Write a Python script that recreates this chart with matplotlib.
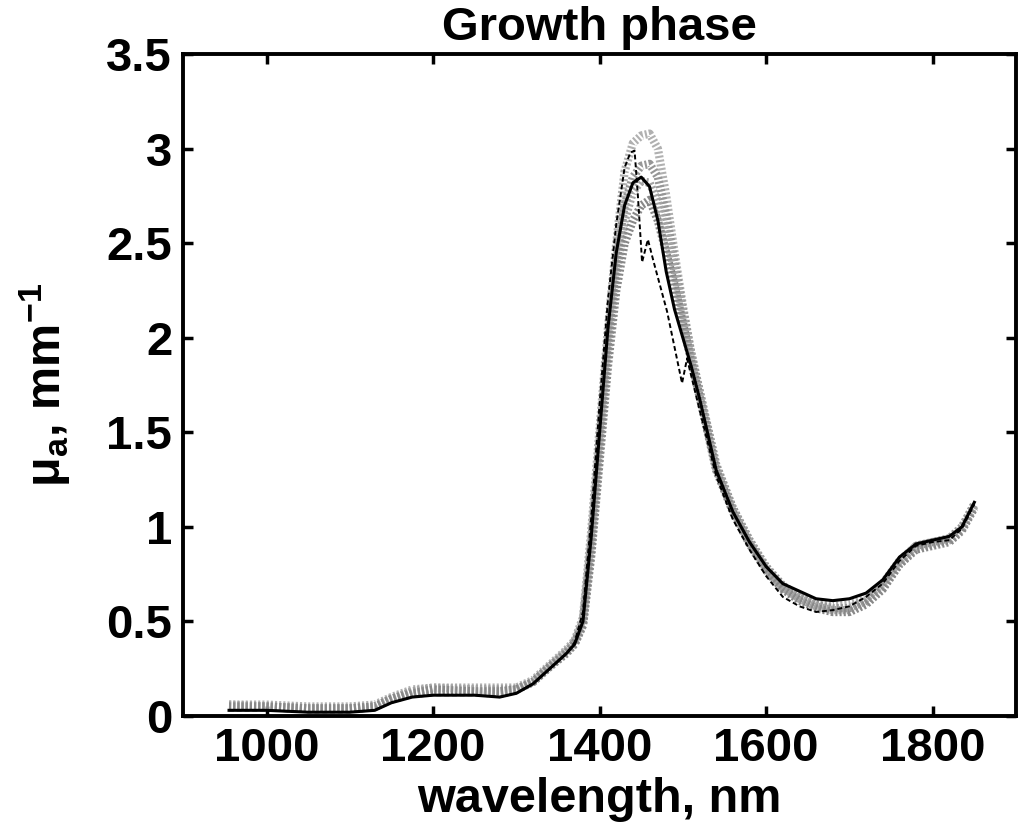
import matplotlib
matplotlib.use('Agg')
import matplotlib.pyplot as plt

plt.rcParams['font.family'] = ['Liberation Sans', 'DejaVu Sans']
plt.rcParams['font.weight'] = 'bold'
plt.rcParams['mathtext.fontset'] = 'custom'
plt.rcParams['mathtext.rm'] = 'Liberation Sans:bold'
plt.rcParams['mathtext.bf'] = 'Liberation Sans:bold'
plt.rcParams['mathtext.default'] = 'bf'

#---------------------------------- dados ---------------------------------#
comp_onda = [955, 1000, 1050, 1100, 1130, 1150, 1175, 1200, 1250, 1280, 1300, 1320, 1340,
             1360, 1370, 1380, 1390, 1400, 1410, 1420, 1430, 1440, 1450, 1460, 1470, 1480,
             1490, 1500, 1510, 1520, 1540, 1560, 1580, 1600, 1620, 1640, 1660, 1680, 1700,
             1720, 1740, 1760, 1780, 1800, 1820, 1835, 1850]

media = [0.03, 0.03, 0.02, 0.02, 0.03, 0.07, 0.10, 0.11, 0.11, 0.10, 0.12, 0.17, 0.25,
         0.33, 0.38, 0.50, 0.95, 1.50, 2.05, 2.45, 2.70, 2.82, 2.85, 2.80, 2.62, 2.35,
         2.15, 2.00, 1.85, 1.68, 1.30, 1.08, 0.92, 0.79, 0.70, 0.66, 0.62, 0.61, 0.62,
         0.65, 0.72, 0.84, 0.91, 0.93, 0.95, 1.00, 1.13]

amostra1 = [0.06, 0.06, 0.05, 0.05, 0.06, 0.10, 0.14, 0.15, 0.15, 0.15, 0.15, 0.19, 0.27,
            0.35, 0.40, 0.52, 0.98, 1.52, 2.05, 2.50, 2.88, 3.03, 3.07, 3.08, 3.00, 2.75,
            2.45, 2.17, 1.92, 1.72, 1.32, 1.10, 0.93, 0.78, 0.68, 0.63, 0.60, 0.58, 0.59,
            0.62, 0.70, 0.82, 0.90, 0.92, 0.93, 0.99, 1.12]

amostra2 = [0.05, 0.05, 0.04, 0.04, 0.05, 0.09, 0.13, 0.14, 0.14, 0.14, 0.14, 0.18, 0.26,
            0.34, 0.39, 0.50, 0.92, 1.45, 1.98, 2.40, 2.70, 2.85, 2.91, 2.92, 2.85, 2.65,
            2.40, 2.15, 1.92, 1.72, 1.33, 1.10, 0.93, 0.79, 0.69, 0.63, 0.59, 0.57, 0.57,
            0.61, 0.69, 0.81, 0.90, 0.92, 0.94, 1.00, 1.12]

amostra3 = [0.06, 0.05, 0.04, 0.04, 0.05, 0.09, 0.13, 0.15, 0.14, 0.13, 0.14, 0.18, 0.26,
            0.34, 0.38, 0.48, 0.88, 1.40, 1.92, 2.33, 2.62, 2.77, 2.83, 2.82, 2.72, 2.55,
            2.35, 2.12, 1.90, 1.70, 1.31, 1.09, 0.92, 0.78, 0.68, 0.62, 0.58, 0.56, 0.56,
            0.60, 0.68, 0.80, 0.89, 0.91, 0.93, 0.99, 1.11]

amostra4 = [0.05, 0.05, 0.04, 0.04, 0.05, 0.09, 0.12, 0.14, 0.13, 0.13, 0.14, 0.18, 0.26,
            0.33, 0.38, 0.48, 0.85, 1.35, 1.85, 2.25, 2.50, 2.62, 2.70, 2.73, 2.62, 2.45,
            2.28, 2.08, 1.88, 1.69, 1.30, 1.08, 0.91, 0.77, 0.67, 0.61, 0.57, 0.55, 0.55,
            0.59, 0.67, 0.80, 0.88, 0.90, 0.92, 0.98, 1.10]

# curva tracejada tem os picos/vales proprios
comp_onda_tr = [955, 1000, 1050, 1100, 1130, 1150, 1175, 1200, 1250, 1280, 1300, 1320, 1340,
                1360, 1370, 1380, 1390, 1400, 1410, 1420, 1430, 1437, 1442, 1446, 1451, 1458,
                1465, 1481, 1490, 1499, 1505, 1520, 1540, 1560, 1580, 1600, 1620, 1640, 1660,
                1680, 1700, 1720, 1740, 1760, 1780, 1800, 1820, 1835, 1850]

tracejada = [0.03, 0.03, 0.02, 0.02, 0.03, 0.07, 0.10, 0.11, 0.11, 0.10, 0.12, 0.17, 0.25,
             0.33, 0.39, 0.55, 1.05, 1.65, 2.20, 2.60, 2.90, 2.98, 2.99, 2.75, 2.40, 2.52,
             2.40, 2.14, 1.95, 1.76, 1.89, 1.62, 1.27, 1.04, 0.88, 0.74, 0.63, 0.58, 0.55,
             0.56, 0.58, 0.63, 0.70, 0.82, 0.90, 0.92, 0.93, 0.99, 1.12]

y_ticks = [0, 0.5, 1, 1.5, 2, 2.5, 3, 3.5]
y_labels = ['0', '0.5', '1', '1.5', '2', '2.5', '3', '3.5']
x_ticks = [1000, 1200, 1400, 1600, 1800]

#---------------------------------------- grafico ------------------------------------------#
fig = plt.figure(figsize=(10.18, 8.34), dpi=100)
ax = fig.add_axes([0.18, 0.1415, 0.818, 0.7935])

cinzas = [('#b0b0b0', amostra1), ('#969696', amostra2), ('#a4a4a4', amostra3), ('#888888', amostra4)]
for cor, vals in cinzas:
    ax.plot(comp_onda, vals, color=cor, lw=6, dashes=(0.25, 0.25), dash_capstyle='butt')

ax.plot(comp_onda, media, color='black', lw=2.2)
ax.plot(comp_onda_tr, tracejada, color='black', lw=1.4, ls=(0, (2.5, 1.5)))

ax.set_xlim(900, 1900)
ax.set_ylim(0, 3.5)
ax.set_xticks(x_ticks)
ax.set_yticks(y_ticks)
ax.set_yticklabels(y_labels)
ax.tick_params(direction='in', length=7, width=2.5, labelsize=34, pad=8,
               top=True, right=True)
for s in ax.spines.values():
    s.set_linewidth(2.8)

ax.set_title('Growth phase', fontsize=34, fontweight='bold', pad=10)
ax.set_xlabel('wavelength, nm', fontsize=35, fontweight='bold', labelpad=4)
ax.set_ylabel('μ$_a$, mm$^{-1}$', fontsize=35, fontweight='bold', labelpad=24)

fig.savefig('out.png', dpi=100)
